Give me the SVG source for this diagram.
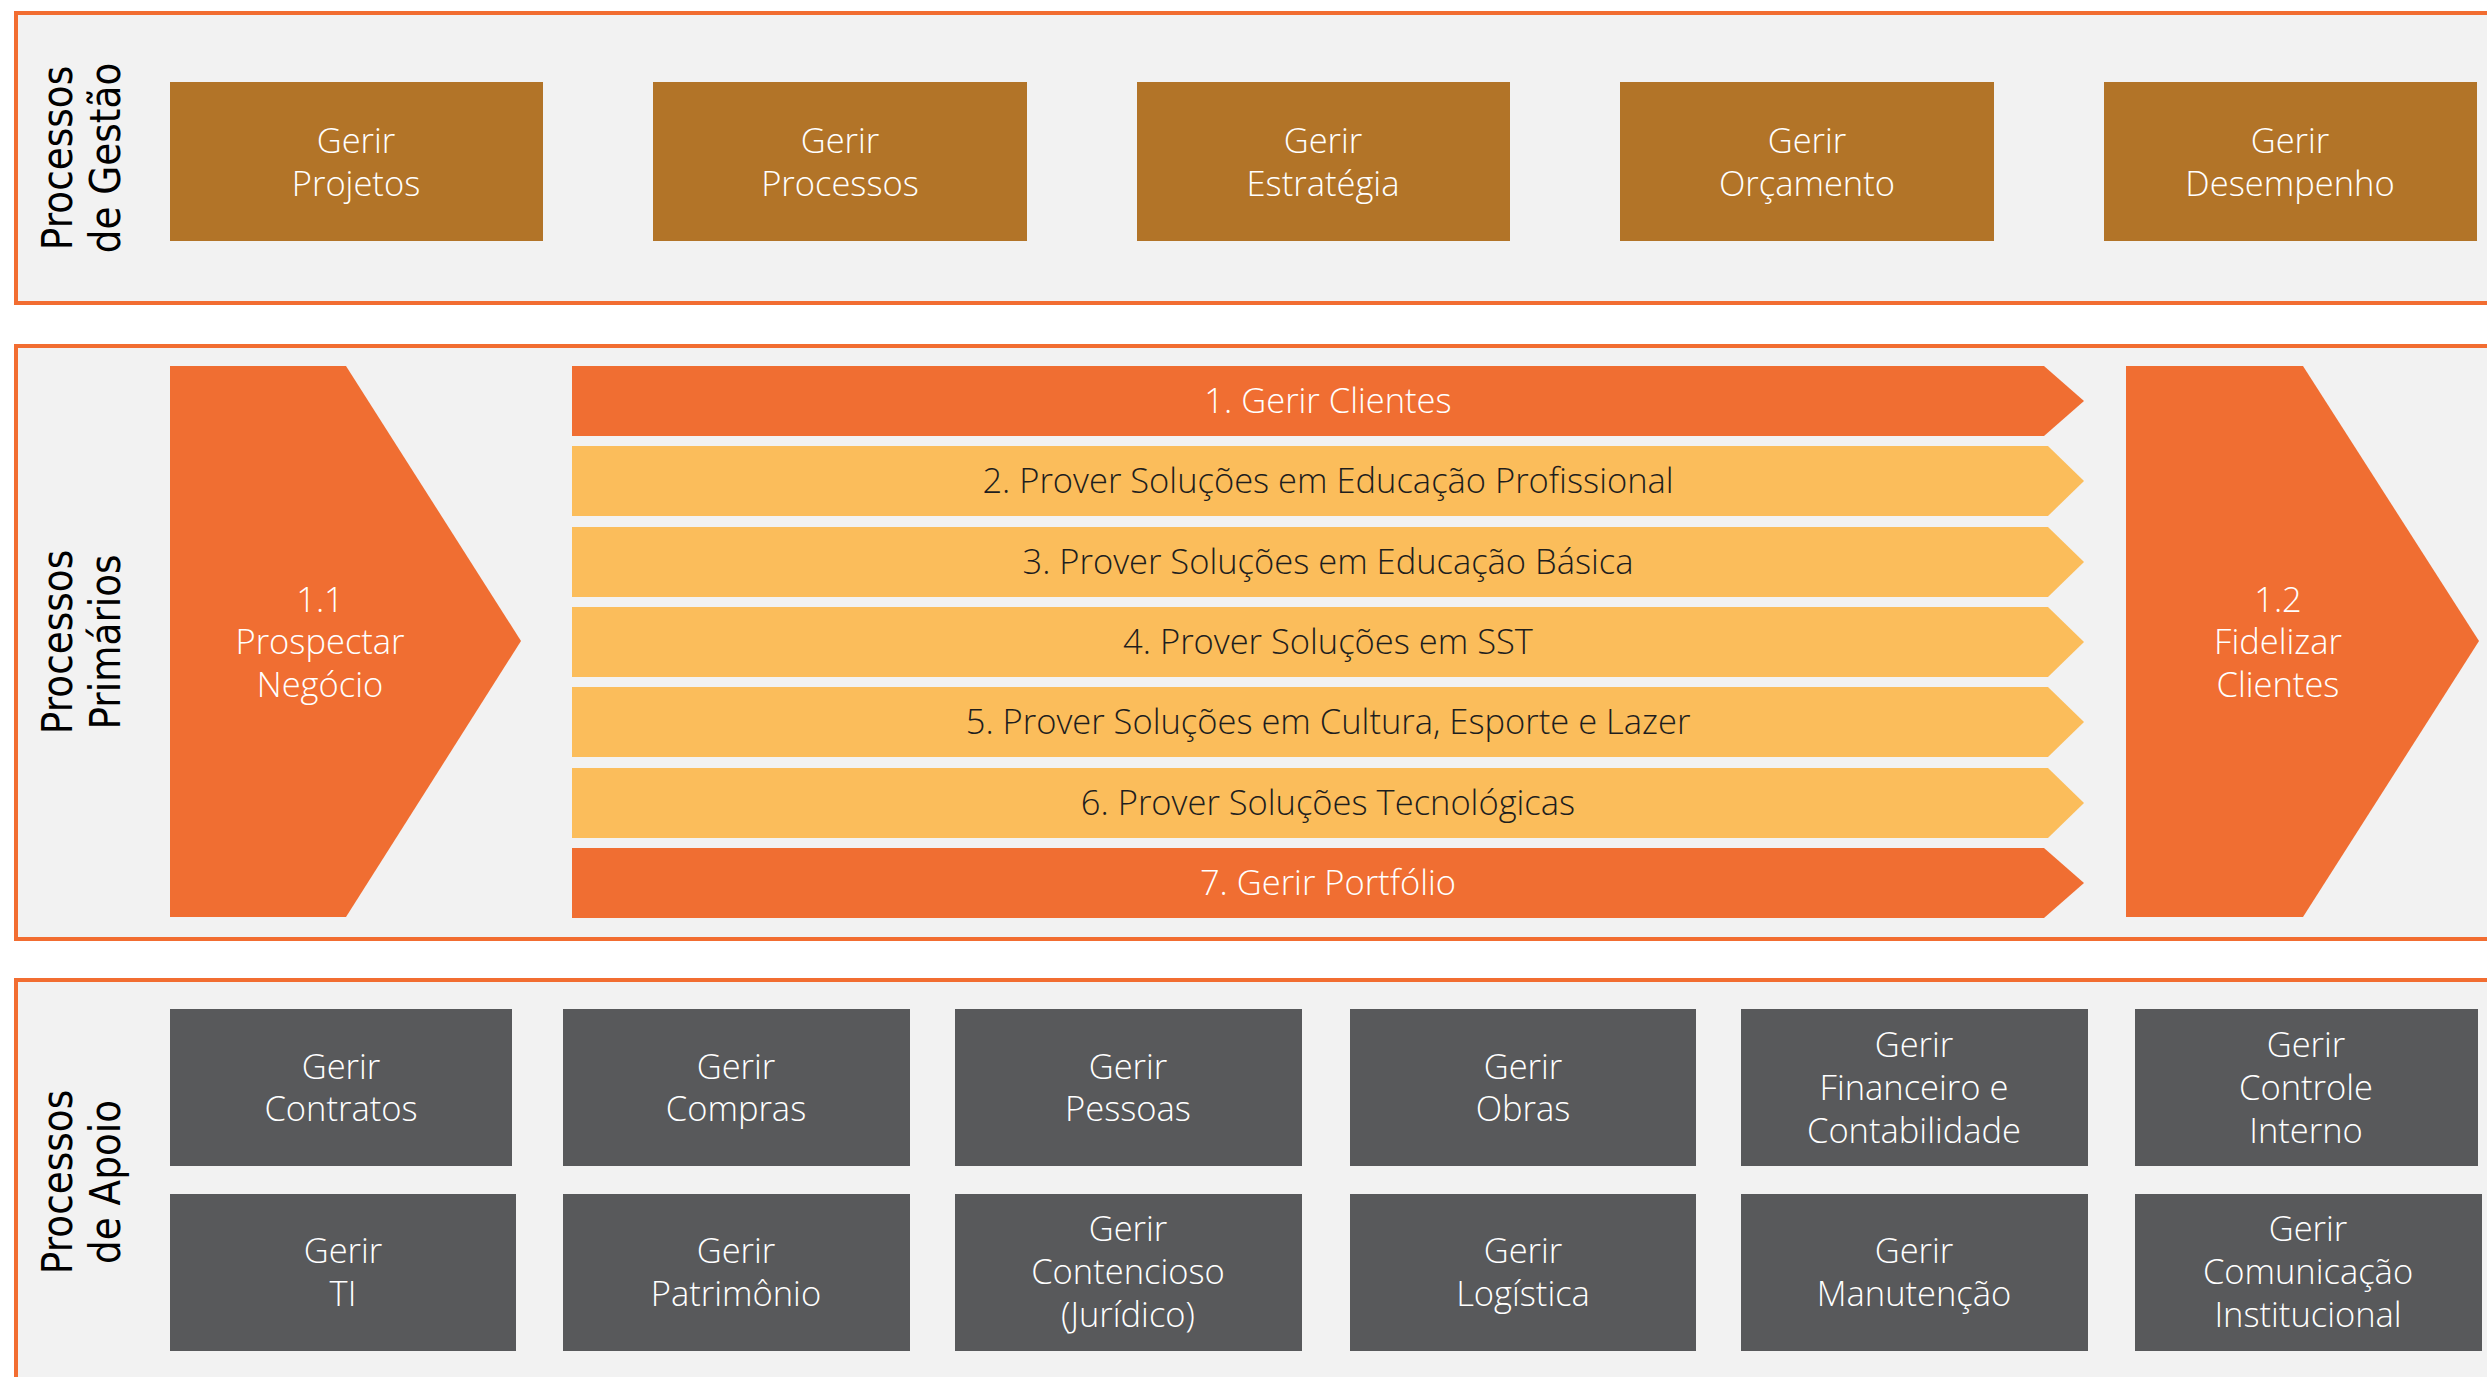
<svg xmlns="http://www.w3.org/2000/svg" width="2487" height="1377" viewBox="0 0 2487 1377">
<style>
.panel{fill:#F2F2F2;stroke:#F26D31;stroke-width:4}
.brown{fill:#B27428}
.orange{fill:#F06E32}
.yellow{fill:#FBBD5B}
.gray{fill:#58595B}
.t{font-family:"Open Sans","Liberation Sans",sans-serif;font-size:34.5px;font-weight:300;text-anchor:middle;fill:#FFFFFF}
.td{font-family:"Open Sans","Liberation Sans",sans-serif;font-size:34.5px;font-weight:300;text-anchor:middle;fill:#1E1E1E}
.lbl{font-family:"DejaVu Sans","Liberation Sans",sans-serif;font-size:43px;text-anchor:middle;fill:#000000}
</style>
<rect width="2487" height="1377" fill="#FFFFFF"/>
<g id="panels">
<rect class="panel" x="16" y="13" width="2500" height="290"/>
<rect class="panel" x="16" y="346" width="2500" height="593"/>
<rect class="panel" x="16" y="980" width="2500" height="450"/>
</g>
<g id="labels">
<text class="lbl" transform="translate(0,158) rotate(-90) scale(0.87,1)"><tspan x="0" y="72">Processos</tspan><tspan x="0" y="120">de Gestão</tspan></text>
<text class="lbl" transform="translate(0,642) rotate(-90) scale(0.87,1)"><tspan x="0" y="72">Processos</tspan><tspan x="0" y="120">Primários</tspan></text>
<text class="lbl" transform="translate(0,1182) rotate(-90) scale(0.87,1)"><tspan x="0" y="72">Processos</tspan><tspan x="0" y="120">de Apoio</tspan></text>
</g>
<g id="gestao">
<g id="g-projetos"><rect class="brown" x="170" y="82" width="373" height="159"/><text class="t"><tspan x="356" y="153">Gerir</tspan><tspan x="356" y="196">Projetos</tspan></text></g>
<g id="g-processos"><rect class="brown" x="653" y="82" width="374" height="159"/><text class="t"><tspan x="840" y="153">Gerir</tspan><tspan x="840" y="196">Processos</tspan></text></g>
<g id="g-estrategia"><rect class="brown" x="1137" y="82" width="373" height="159"/><text class="t"><tspan x="1323" y="153">Gerir</tspan><tspan x="1323" y="196">Estratégia</tspan></text></g>
<g id="g-orcamento"><rect class="brown" x="1620" y="82" width="374" height="159"/><text class="t"><tspan x="1807" y="153">Gerir</tspan><tspan x="1807" y="196">Orçamento</tspan></text></g>
<g id="g-desempenho"><rect class="brown" x="2104" y="82" width="373" height="159"/><text class="t"><tspan x="2290" y="153">Gerir</tspan><tspan x="2290" y="196">Desempenho</tspan></text></g>
</g>
<g id="primarios">
<g id="p-prospectar"><polygon class="orange" points="170,366 346,366 521,641 346,917 170,917"/><text class="t"><tspan x="320" y="612">1.1</tspan><tspan x="320" y="654">Prospectar</tspan><tspan x="320" y="697">Negócio</tspan></text></g>
<g id="p-1"><polygon class="orange" points="572,366 2044,366 2084,401 2044,436 572,436"/><text class="t" x="1328" y="413">1. Gerir Clientes</text></g>
<g id="p-2"><polygon class="yellow" points="572,446 2048,446 2084,481 2048,516 572,516"/><text class="td" x="1328" y="493">2. Prover Soluções em Educação Profissional</text></g>
<g id="p-3"><polygon class="yellow" points="572,527 2048,527 2084,562 2048,597 572,597"/><text class="td" x="1328" y="574">3. Prover Soluções em Educação Básica</text></g>
<g id="p-4"><polygon class="yellow" points="572,607 2048,607 2084,642 2048,677 572,677"/><text class="td" x="1328" y="654">4. Prover Soluções em SST</text></g>
<g id="p-5"><polygon class="yellow" points="572,687 2048,687 2084,722 2048,757 572,757"/><text class="td" x="1328" y="734">5. Prover Soluções em Cultura, Esporte e Lazer</text></g>
<g id="p-6"><polygon class="yellow" points="572,768 2048,768 2084,803 2048,838 572,838"/><text class="td" x="1328" y="815">6. Prover Soluções Tecnológicas</text></g>
<g id="p-7"><polygon class="orange" points="572,848 2044,848 2084,883 2044,918 572,918"/><text class="t" x="1328" y="895">7. Gerir Portfólio</text></g>
<g id="p-fidelizar"><polygon class="orange" points="2126,366 2303,366 2479,641 2303,917 2126,917"/><text class="t"><tspan x="2278" y="612">1.2</tspan><tspan x="2278" y="654">Fidelizar</tspan><tspan x="2278" y="697">Clientes</tspan></text></g>
</g>
<g id="apoio">
<g id="a-contratos"><rect class="gray" x="170" y="1009" width="342" height="157"/><text class="t"><tspan x="341" y="1079">Gerir</tspan><tspan x="341" y="1121">Contratos</tspan></text></g>
<g id="a-compras"><rect class="gray" x="563" y="1009" width="347" height="157"/><text class="t"><tspan x="736" y="1079">Gerir</tspan><tspan x="736" y="1121">Compras</tspan></text></g>
<g id="a-pessoas"><rect class="gray" x="955" y="1009" width="347" height="157"/><text class="t"><tspan x="1128" y="1079">Gerir</tspan><tspan x="1128" y="1121">Pessoas</tspan></text></g>
<g id="a-obras"><rect class="gray" x="1350" y="1009" width="346" height="157"/><text class="t"><tspan x="1523" y="1079">Gerir</tspan><tspan x="1523" y="1121">Obras</tspan></text></g>
<g id="a-financeiro"><rect class="gray" x="1741" y="1009" width="347" height="157"/><text class="t"><tspan x="1914" y="1057">Gerir</tspan><tspan x="1914" y="1100">Financeiro e</tspan><tspan x="1914" y="1143">Contabilidade</tspan></text></g>
<g id="a-controle"><rect class="gray" x="2135" y="1009" width="343" height="157"/><text class="t"><tspan x="2306" y="1057">Gerir</tspan><tspan x="2306" y="1100">Controle</tspan><tspan x="2306" y="1143">Interno</tspan></text></g>
<g id="a-ti"><rect class="gray" x="170" y="1194" width="346" height="157"/><text class="t"><tspan x="343" y="1263">Gerir</tspan><tspan x="343" y="1306">TI</tspan></text></g>
<g id="a-patrimonio"><rect class="gray" x="563" y="1194" width="347" height="157"/><text class="t"><tspan x="736" y="1263">Gerir</tspan><tspan x="736" y="1306">Patrimônio</tspan></text></g>
<g id="a-contencioso"><rect class="gray" x="955" y="1194" width="347" height="157"/><text class="t"><tspan x="1128" y="1241">Gerir</tspan><tspan x="1128" y="1284">Contencioso</tspan><tspan x="1128" y="1327">(Jurídico)</tspan></text></g>
<g id="a-logistica"><rect class="gray" x="1350" y="1194" width="346" height="157"/><text class="t"><tspan x="1523" y="1263">Gerir</tspan><tspan x="1523" y="1306">Logística</tspan></text></g>
<g id="a-manutencao"><rect class="gray" x="1741" y="1194" width="347" height="157"/><text class="t"><tspan x="1914" y="1263">Gerir</tspan><tspan x="1914" y="1306">Manutenção</tspan></text></g>
<g id="a-comunicacao"><rect class="gray" x="2135" y="1194" width="347" height="157"/><text class="t"><tspan x="2308" y="1241">Gerir</tspan><tspan x="2308" y="1284">Comunicação</tspan><tspan x="2308" y="1327">Institucional</tspan></text></g>
</g>
<g id="connectors"/>
</svg>
